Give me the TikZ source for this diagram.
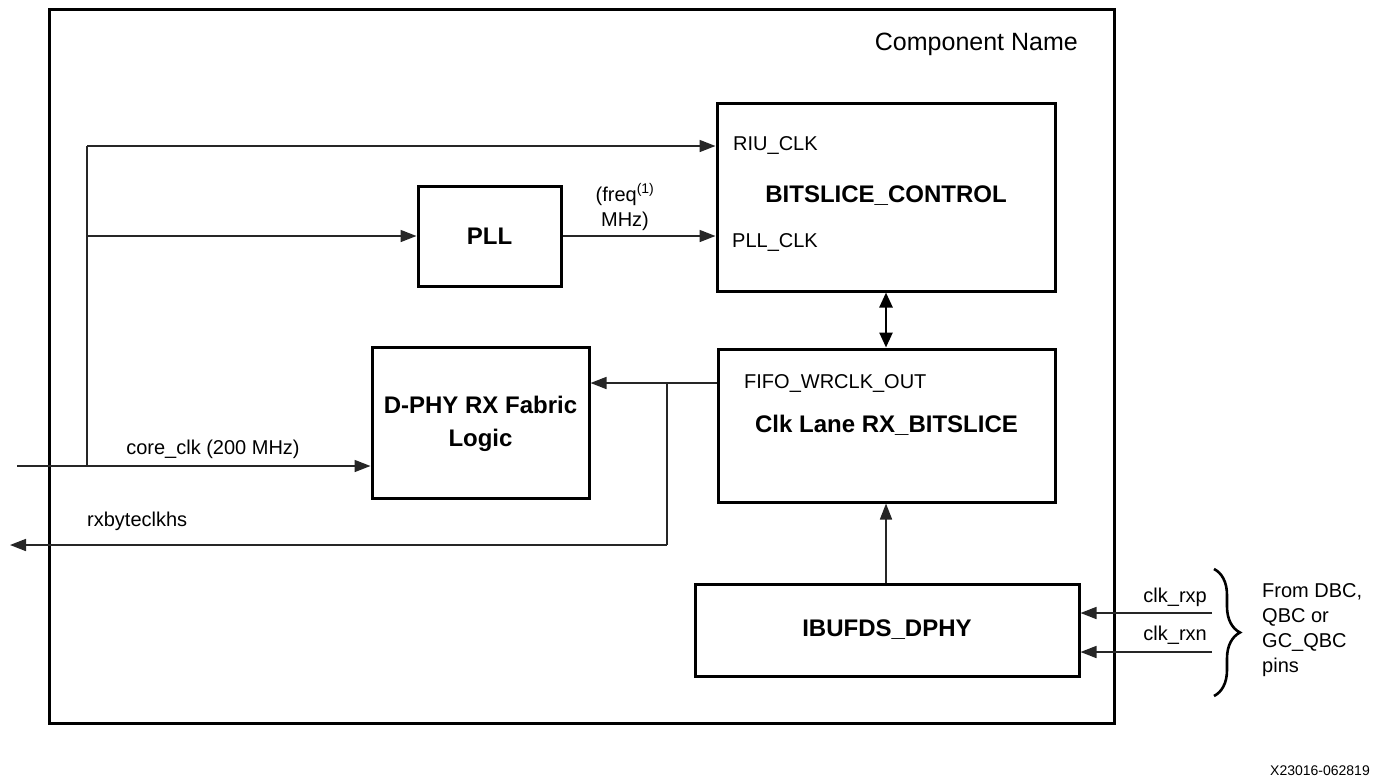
\documentclass[tikz,border=0pt]{standalone}
\usepackage{fontspec}
\setmainfont{Liberation Sans}
\usetikzlibrary{arrows.meta,decorations.pathreplacing}
\tikzset{
  blk/.style={draw=black,line width=3pt,rectangle,inner sep=0pt},
  outerbox/.style={draw=black,line width=3pt,rectangle,inner sep=0pt},
  conn/.style={draw=black!85,line width=1.7pt},
  arr/.style={conn,-{Triangle[length=16pt,width=12pt]}},
  dblarr/.style={draw=black,line width=2.5pt,{Triangle[length=15pt,width=13pt]}-{Triangle[length=15pt,width=13pt]}},
  boldlbl/.style={font=\fontsize{24}{33}\selectfont\bfseries,align=center,inner sep=0pt},
  lbl/.style={font=\fontsize{20}{25}\selectfont,inner sep=0pt},
  bigl/.style={font=\fontsize{25}{30}\selectfont,inner sep=0pt},
}
\begin{document}
\begin{tikzpicture}[x=1pt,y=-1pt]
\useasboundingbox (0,0) rectangle (1377,777);
% outer component box
\node[outerbox,minimum width=1065pt,minimum height=714pt] (comp) at (581.5,366) {};
\node[bigl,anchor=east] (compname) at (1078,44) {Component Name};
% blocks
\node[blk,minimum width=338pt,minimum height=188pt] (bsc) at (886,197) {};
\node[blk,minimum width=143pt,minimum height=100pt] (pll) at (489.5,236) {};
\node[blk,minimum width=217pt,minimum height=151pt] (dphy) at (480.5,422.5) {};
\node[blk,minimum width=337pt,minimum height=153pt] (clk) at (886.5,425.5) {};
\node[blk,minimum width=384pt,minimum height=92pt] (ibuf) at (887,630) {};
% block texts
\node[boldlbl] (bsct) at (886,196) {BITSLICE\_CONTROL};
\node[lbl,anchor=west] (riu) at (733,146) {RIU\_CLK};
\node[lbl,anchor=west] (pllclk) at (732,242) {PLL\_CLK};
\node[boldlbl] (pllt) at (pll.center) {PLL};
\node[boldlbl] (dphyt) at (480.5,423.5) {D-PHY RX Fabric\\Logic};
\node[lbl,anchor=west] (fifo) at (744,383) {FIFO\_WRCLK\_OUT};
\node[boldlbl] (clkt) at (886.5,425) {Clk Lane RX\_BITSLICE};
\node[boldlbl] (ibuft) at (ibuf.center) {IBUFDS\_DPHY};
% coordinates
\coordinate (vtop) at (87,146);
\coordinate (vpll) at (87,236);
\coordinate (vbot) at (87,466);
\coordinate (corein) at (17,466);
\coordinate (jn) at (667,383);
\coordinate (jb) at (667,545);
\coordinate (rxout) at (10,545);
\coordinate (rxp) at (1212,613);
\coordinate (rxn) at (1212,652);
% connectors
\draw[conn] (vbot) -- (vtop);
\draw[arr] (vtop) -- (bsc.west |- vtop);
\draw[arr] (vpll) -- (pll.west);
\draw[arr] (pll.east) -- (bsc.west |- pll.east);
\draw[arr] (corein) -- (dphy.west |- corein);
\draw[arr] (clk.west |- jn) -- (dphy.east |- jn);
\draw[conn] (jn) -- (jb);
\draw[arr] (jb) -- (rxout);
\draw[dblarr] (bsc.south) -- (clk.north -| bsc.south);
\draw[arr] (ibuf.north -| bsc.south) -- (clk.south -| bsc.south);
\draw[arr] (rxp) -- (ibuf.east |- rxp);
\draw[arr] (rxn) -- (ibuf.east |- rxn);
% connector labels
\node[lbl,align=center] (freq) at (625,207) {(freq\textsuperscript{(1)}\\MHz)};
\node[lbl] (corel) at (213,449) {core\_clk (200 MHz)};
\node[lbl,anchor=west] (rxbl) at (87,521) {rxbyteclkhs};
\node[lbl,anchor=east] (rxpl) at (1207,597) {clk\_rxp};
\node[lbl,anchor=east] (rxnl) at (1207,635) {clk\_rxn};
% brace
\draw[line width=2.6pt,decorate,decoration={brace,amplitude=26pt}] (1214,569) -- (1214,696);
\node[lbl,anchor=west,align=left] (from) at (1262,630.5) {From DBC,\\QBC or\\GC\_QBC\\pins};
\node[font=\fontsize{14}{16}\selectfont,inner sep=0pt,anchor=east] (fig) at (1370,771) {X23016-062819};
\end{tikzpicture}
\end{document}
